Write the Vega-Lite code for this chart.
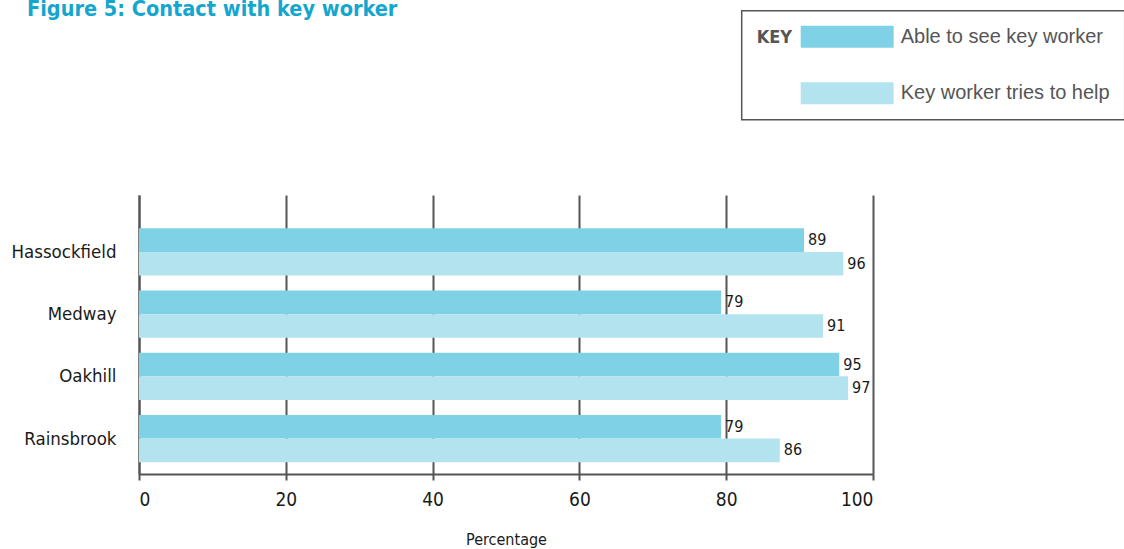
{
  "$schema": "https://vega.github.io/schema/vega-lite/v6.json",
  "autosize": {"type": "none"},
  "padding": {"left": 139, "top": 195, "right": 251, "bottom": 75},
  "width": 734,
  "height": 279,
  "background": "white",
  "title": {
    "text": "Figure 5: Contact with key worker",
    "anchor": "start",
    "frame": "group",
    "orient": "top",
    "baseline": "alphabetic",
    "font": "DejaVu Sans Condensed",
    "fontWeight": "bold",
    "fontSize": 21.5,
    "color": "#14A6CF",
    "offset": 0,
    "dx": -112,
    "dy": 28
  },
  "data": {
    "values": [
      {"site": "Hassockfield", "series": "Able to see key worker", "pct": 90.6, "label": "89"},
      {"site": "Hassockfield", "series": "Key worker tries to help", "pct": 95.95, "label": "96"},
      {"site": "Medway", "series": "Able to see key worker", "pct": 79.3, "label": "79"},
      {"site": "Medway", "series": "Key worker tries to help", "pct": 93.2, "label": "91"},
      {"site": "Oakhill", "series": "Able to see key worker", "pct": 95.4, "label": "95"},
      {"site": "Oakhill", "series": "Key worker tries to help", "pct": 96.6, "label": "97"},
      {"site": "Rainsbrook", "series": "Able to see key worker", "pct": 79.3, "label": "79"},
      {"site": "Rainsbrook", "series": "Key worker tries to help", "pct": 87.3, "label": "86"}
    ]
  },
  "encoding": {
    "y": {
      "field": "site",
      "type": "nominal",
      "sort": ["Hassockfield", "Medway", "Oakhill", "Rainsbrook"],
      "scale": {"paddingInner": 0.24, "paddingOuter": 0.3625, "align": 0.738},
      "axis": {
        "title": null,
        "ticks": false,
        "labelFont": "DejaVu Sans Condensed",
        "labelFontSize": 18.5,
        "labelColor": "#1a1a1a",
        "labelPadding": 23,
        "domainColor": "#555555",
        "domainWidth": 2
      }
    },
    "yOffset": {
      "field": "series",
      "type": "nominal",
      "sort": ["Able to see key worker", "Key worker tries to help"],
      "scale": {"paddingInner": 0, "paddingOuter": 0}
    },
    "x": {
      "field": "pct",
      "type": "quantitative",
      "scale": {"domain": [0, 100], "nice": false},
      "axis": {
        "title": "Percentage",
        "values": [0, 20, 40, 60, 80, 100],
        "grid": true,
        "gridColor": "#555555",
        "gridWidth": 2,
        "gridOpacity": 1,
        "domainColor": "#555555",
        "domainWidth": 2,
        "tickColor": "#555555",
        "tickWidth": 2,
        "tickSize": 6,
        "labelFont": "DejaVu Sans Condensed",
        "labelFontSize": 19,
        "labelColor": "#1a1a1a",
        "labelPadding": 10,
        "titleFont": "DejaVu Sans Condensed",
        "titleFontSize": 16,
        "titleFontWeight": "normal",
        "titleColor": "#1a1a1a",
        "titlePadding": 22
      }
    }
  },
  "layer": [
    {
      "mark": {"type": "bar"},
      "encoding": {
        "color": {
          "field": "series",
          "type": "nominal",
          "scale": {
            "domain": ["Able to see key worker", "Key worker tries to help"],
            "range": ["#7FD2E6", "#B3E3EF"]
          },
          "legend": {
            "orient": "none",
            "legendX": 602.7,
            "legendY": -184.3,
            "title": "KEY",
            "titleOrient": "left",
            "titleAnchor": "start",
            "titleBaseline": "top",
            "titleFont": "DejaVu Sans Condensed",
            "titleFontWeight": "bold",
            "titleFontSize": 18,
            "titleColor": "#555555",
            "titlePadding": 8,
            "padding": 15,
            "strokeColor": "#555555",
            "fillColor": "white",
            "symbolType": "M-1,-1L7.45,-1L7.45,1L-1,1Z",
            "symbolSize": 484,
            "symbolStrokeWidth": 0,
            "symbolOpacity": 1,
            "rowPadding": 34.5,
            "labelOffset": 78,
            "labelFont": "Liberation Sans",
            "labelFontSize": 20,
            "labelColor": "#555555",
            "labelLimit": 400,
            "encode": {
              "legend": {"update": {"strokeWidth": {"value": 1.5}}},
              "title": {"update": {"dy": {"value": 3}}}
            }
          }
        }
      }
    },
    {
      "mark": {
        "type": "text",
        "align": "left",
        "baseline": "middle",
        "dx": 4,
        "font": "DejaVu Sans Condensed",
        "fontSize": 16,
        "color": "#1a1a1a"
      },
      "encoding": {
        "text": {"field": "label"}
      }
    }
  ],
  "config": {
    "view": {"stroke": null}
  }
}
